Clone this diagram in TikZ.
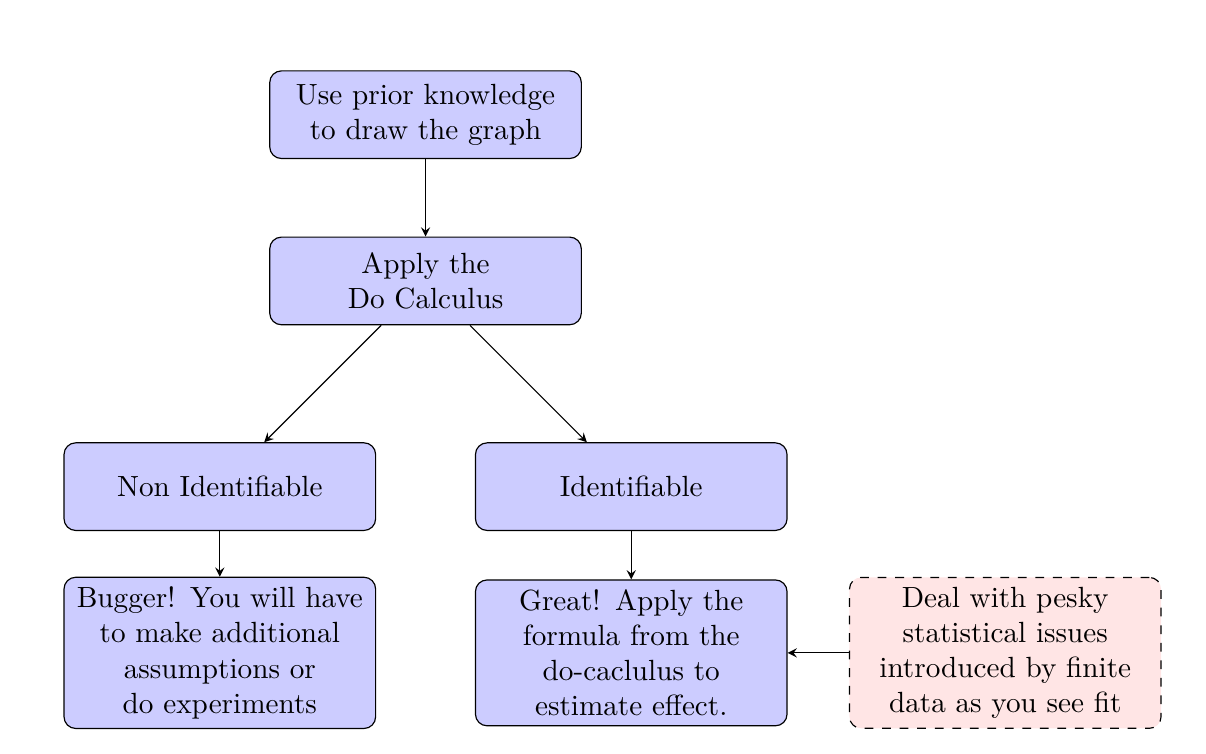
\documentclass[tikz,border=0pt]{standalone}
\usetikzlibrary{arrows}

\begin{document}
\begin{tikzpicture}[
        block/.style = {rectangle, draw, fill=blue!20, text width=10em, align=center, rounded corners, minimum height=3em},
        extra/.style = {rectangle, draw, dashed, fill=red!10, text width=10em, align=center, rounded corners, minimum height=3em},
        line/.style = {draw, -stealth}]
                    \useasboundingbox (-5.12,1.38) rectangle (9.39,-7.68);

                    \node[block] (prior) at (0,0) {Use prior knowledge\\ to draw the graph};
                    \node[block] (docalc) at (0,-2) {Apply the\\ Do Calculus};
                    \node[block] (nonid) at (-2.475,-4.475) {Non Identifiable};
                    \node[block] (ident) at (2.475,-4.475) {Identifiable};
                    \node[block] (bugger) at (-2.475,-6.475) {Bugger! You will have\\ to make additional\\ assumptions or\\ do experiments};
                    \node[block] (great) at (2.475,-6.475) {Great! Apply the\\ formula from the\\ do-caclulus to\\ estimate effect.};
                    \node[extra] (pesky) at (6.975,-6.475) {Deal with pesky\\ statistical issues\\ introduced by finite\\ data as you see fit};

                    \path[line] (prior) -- (docalc);
                    \path[line] (docalc) -- (nonid);
                    \path[line] (docalc) -- (ident);
                    \path[line] (nonid) -- (bugger);
                    \path[line] (ident) -- (great);
                    \path[line] (pesky) -- (great);
                \end{tikzpicture}
\end{document}
